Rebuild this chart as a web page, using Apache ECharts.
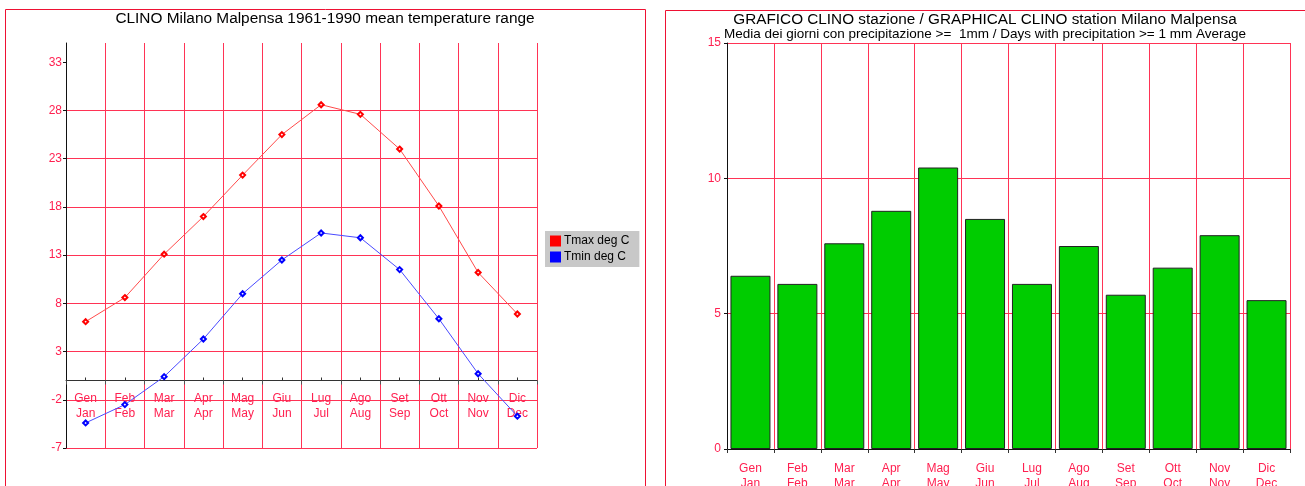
<!DOCTYPE html>
<html>
<head>
<meta charset="utf-8">
<script src="https://cdn.jsdelivr.net/npm/echarts@6/dist/echarts.min.js"></script>
<style>html,body{margin:0;padding:0;background:#fff}#c{width:1305px;height:486px}</style>
</head>
<body>
<div id="c"></div>
<script>
var monthsIt = ['Gen','Feb','Mar','Apr','Mag','Giu','Lug','Ago','Set','Ott','Nov','Dic'];
var monthsEn = ['Jan','Feb','Mar','Apr','May','Jun','Jul','Aug','Sep','Oct','Nov','Dec'];
var tmax = [6.1, 8.6, 13.1, 17.0, 21.3, 25.5, 28.6, 27.6, 24.0, 18.1, 11.2, 6.9];
var tmin = [-4.4, -2.5, 0.4, 4.3, 9.0, 12.5, 15.3, 14.8, 11.5, 6.4, 0.7, -3.7];
var rainDays = [6.4, 6.1, 7.6, 8.8, 10.4, 8.5, 6.1, 7.5, 5.7, 6.7, 7.9, 5.5];
var tempTicks = [-7, -2, 3, 8, 13, 18, 23, 28, 33];
var rainTicks = [0, 5, 10, 15];

var FONT = '"Liberation Sans", Arial, sans-serif';
var GRID_RED = '#ff3355';
var LABEL_RED = '#ff2050';
var categories = monthsIt.map(function (m, i) { return m + '\n' + monthsEn[i]; });

// left plot box
var T_MIN = -7, T_MAX = 35;
var L_LEFT = 66, L_TOP = 43, L_W = 471, L_H = 405;
// the category axis sits on the zero line of the temperature scale
var L_ZERO_H = L_H * (T_MAX - 0) / (T_MAX - T_MIN);

var chart = echarts.init(document.getElementById('c'), null, {renderer: 'canvas'});
chart.setOption({
  animation: false,
  textStyle: {fontFamily: FONT},
  graphic: [
    {type: 'rect', shape: {x: 5.5, y: 9.5, width: 640, height: 520}, style: {fill: 'none', stroke: '#ee1133', lineWidth: 1}, silent: true},
    {type: 'rect', shape: {x: 665.5, y: 10.5, width: 700, height: 520}, style: {fill: 'none', stroke: '#ee1133', lineWidth: 1}, silent: true}
  ],
  title: [
    {text: 'CLINO Milano Malpensa 1961-1990 mean temperature range', left: 325, top: 11, padding: 0, textAlign: 'center',
     textStyle: {fontSize: 15.4, fontWeight: 'normal', color: '#000', fontFamily: FONT}},
    {text: 'GRAFICO CLINO stazione / GRAPHICAL CLINO station Milano Malpensa',
     subtext: 'Media dei giorni con precipitazione >=  1mm / Days with precipitation >= 1 mm Average',
     left: 985, top: 12, padding: 0, itemGap: 0, textAlign: 'center',
     textStyle: {fontSize: 15.3, fontWeight: 'normal', color: '#000', fontFamily: FONT},
     subtextStyle: {fontSize: 13.5, color: '#000', fontFamily: FONT}}
  ],
  legend: {
    left: 545, top: 231, orient: 'vertical', backgroundColor: '#c8c8c8', padding: [4, 10, 4, 5],
    itemWidth: 11, itemHeight: 11, itemGap: 4, icon: 'rect',
    itemStyle: {borderWidth: 0},
    textStyle: {fontSize: 12, color: '#000', fontFamily: FONT, padding: [0, 0, 0, -2]},
    data: [
      {name: 'Tmax deg C', itemStyle: {color: '#ff0000', borderWidth: 0}},
      {name: 'Tmin deg C', itemStyle: {color: '#0000ff', borderWidth: 0}}
    ]
  },
  grid: [
    {left: L_LEFT, top: L_TOP, width: L_W, height: L_H, outerBoundsMode: 'none', containLabel: false},
    {left: 727, top: 43, width: 563, height: 406, outerBoundsMode: 'none', containLabel: false},
    {left: L_LEFT, top: L_TOP, width: L_W, height: L_ZERO_H, outerBoundsMode: 'none', containLabel: false},
    {left: L_LEFT, top: L_TOP, width: L_W, height: L_ZERO_H, outerBoundsMode: 'none', containLabel: false}
  ],
  xAxis: [
    {gridIndex: 0, type: 'category', data: categories, boundaryGap: true,
     axisLine: {show: false, onZero: false}, axisTick: {show: false}, axisLabel: {show: false},
     splitLine: {show: true, interval: 0, lineStyle: {color: GRID_RED, width: 1}}},
    {gridIndex: 1, type: 'category', data: categories, boundaryGap: true,
     axisLine: {onZero: true, lineStyle: {color: '#111', width: 1}},
     axisTick: {show: true, length: 4, interval: 0, lineStyle: {color: '#333'}},
     axisLabel: {interval: 0, margin: 12, color: LABEL_RED, fontSize: 12, lineHeight: 15, fontFamily: FONT},
     splitLine: {show: true, interval: 0, lineStyle: {color: GRID_RED, width: 1}}},
    {gridIndex: 2, type: 'category', data: categories, boundaryGap: true, position: 'bottom',
     axisLine: {show: true, onZero: false, lineStyle: {color: '#333', width: 1}},
     axisTick: {show: true, length: 4, interval: 0, lineStyle: {color: '#555'}},
     axisLabel: {interval: 0, margin: 11, color: LABEL_RED, fontSize: 12, lineHeight: 15, fontFamily: FONT},
     splitLine: {show: false}},
    {gridIndex: 3, type: 'category', data: categories, boundaryGap: true, position: 'bottom',
     axisLine: {show: false, onZero: false},
     axisTick: {show: true, alignWithLabel: true, inside: true, length: 3, interval: 0, lineStyle: {color: '#333'}},
     axisLabel: {show: false}, splitLine: {show: false}}
  ],
  yAxis: [
    {gridIndex: 0, type: 'value', min: T_MIN, max: T_MAX,
     axisLine: {show: true, onZero: false, lineStyle: {color: '#111'}},
     axisTick: {show: true, length: 3, customValues: tempTicks, lineStyle: {color: '#111'}},
     axisLabel: {customValues: tempTicks, margin: 4, color: LABEL_RED, fontSize: 12, fontFamily: FONT},
     splitLine: {show: true, showMaxLine: false, lineStyle: {color: GRID_RED, width: 1}}},
    {gridIndex: 1, type: 'value', min: 0, max: 15, interval: 5,
     axisLine: {show: true, lineStyle: {color: '#111'}},
     axisTick: {show: true, length: 3, customValues: rainTicks, lineStyle: {color: '#111'}},
     axisLabel: {customValues: rainTicks, margin: 6, color: LABEL_RED, fontSize: 12, fontFamily: FONT},
     splitLine: {show: true, lineStyle: {color: GRID_RED, width: 1}}},
    {gridIndex: 2, type: 'value', min: 0, max: T_MAX, show: false},
    {gridIndex: 3, type: 'value', min: 0, max: T_MAX, show: false}
  ],
  series: [
    {name: 'Tmax deg C', type: 'line', xAxisIndex: 0, yAxisIndex: 0, data: tmax,
     symbol: 'emptyDiamond', symbolSize: 5, itemStyle: {color: '#ff0000', borderColor: '#ff6060', borderWidth: 1},
     lineStyle: {color: '#ff4a4a', width: 1}, z: 5},
    {name: 'Tmin deg C', type: 'line', xAxisIndex: 0, yAxisIndex: 0, data: tmin,
     symbol: 'emptyDiamond', symbolSize: 5, itemStyle: {color: '#0000ff', borderColor: '#6060ff', borderWidth: 1},
     lineStyle: {color: '#4a4aff', width: 1}, z: 5},
    {name: 'rain', type: 'bar', xAxisIndex: 1, yAxisIndex: 1, data: rainDays, barWidth: 40,
     itemStyle: {color: '#00cc00', borderColor: '#222', borderWidth: 1}}
  ]
});
</script>
</body>
</html>
